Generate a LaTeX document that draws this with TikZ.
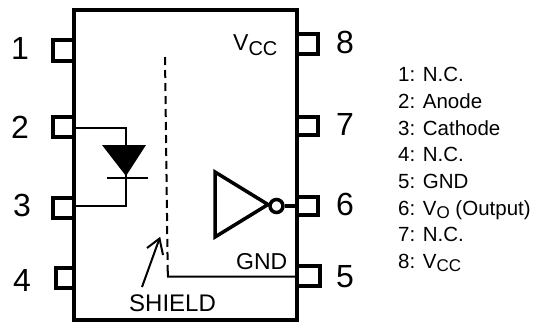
\documentclass[tikz,border=0pt]{standalone}
\usepackage{fontspec}
\setmainfont{Liberation Sans}
\newcommand{\fs}[1]{\fontsize{#1pt}{#1pt}\selectfont}
\tikzset{
  pinbox/.style={draw,line width=4pt,minimum width=21pt,minimum height=#1,inner sep=0pt,outer sep=0pt},
  pinbox/.default=20pt,
  bodybox/.style={draw,line width=4pt,minimum width=223pt,minimum height=310pt,inner sep=0pt,outer sep=0pt},
  wire/.style={line width=2pt},
  thick wire/.style={line width=3.5pt},
  pinnum/.style={font=\fs{32},inner sep=0pt},
  lab/.style={font=\fs{23},inner sep=0pt,anchor=base west},
  listitem/.style={font=\fs{20.5},inner sep=0pt,anchor=base west},
}
\begin{document}
\begin{tikzpicture}[x=1pt,y=-1pt]
\useasboundingbox (0,0) rectangle (534,322);
\fill[white] (0,0) rectangle (534,322);
% pins
\node[pinbox=21pt] (p1) at (63.5,50.5) {};
\node[pinbox=20pt] (p2) at (63.5,127) {};
\node[pinbox=20pt] (p3) at (63.5,207.5) {};
\node[pinbox=20.5pt,minimum width=18.5pt] (p4) at (64.75,278.2) {};
\node[pinbox=20pt] (p8) at (307,43.7) {};
\node[pinbox=18pt] (p7) at (307,126) {};
\node[pinbox=18pt] (p6) at (307,206) {};
\node[pinbox=20pt,minimum width=23pt] (p5) at (308,276) {};
\node[bodybox] (body) at (185.5,165) {};
% diode
\coordinate (a) at (126,128);
\coordinate (k) at (126,205.7);
\coordinate (tl) at (102,145);
\coordinate (tr) at (146,145);
\coordinate (tip) at (126,176);
\coordinate (bl) at (107,177.7);
\coordinate (br) at (148,177.7);
\draw[wire] (p2.east |- a) -- (a) -- (k) -- (p3.east |- k);
\fill (tl) -- (tr) -- (tip) -- cycle;
\draw[wire] (bl) -- (br);
% shield
\coordinate (s1) at (165,57);
\coordinate (s2) at (167.7,270);
\coordinate (s3) at (168,276.5);
\coordinate (s4) at (297,276.5);
\draw[wire,dash pattern=on 8pt off 5pt] (s1) -- (s2);
\draw[wire] (s2) -- (s3) -- (s4);
% inverter
\coordinate (i1) at (215,172);
\coordinate (i2) at (215,237);
\coordinate (i3) at (268,204.5);
\draw[thick wire,line join=miter] (i1) -- (i3) -- (i2) -- cycle;
\node[draw,circle,fill=white,line width=3.5pt,minimum size=13pt,inner sep=0pt] (bub) at (276.5,206) {};
\draw[thick wire] (bub.east) -- (bub.east -| body.east);
% arrow
\coordinate (ar1) at (142,287);
\coordinate (ar2) at (159.5,238.5);
\coordinate (ar3) at (147,248);
\coordinate (ar4) at (163,255);
\draw[wire] (ar1) -- (ar2);
\draw[wire,line join=miter] (ar3) -- (ar2) -- (ar4);
% pin numbers
\node[pinnum] (n1) at (20,48.5) {1};
\node[pinnum] (n2) at (20,127) {2};
\node[pinnum] (n3) at (22,205) {3};
\node[pinnum] (n4) at (22,280) {4};
\node[pinnum] (n8) at (345,42) {8};
\node[pinnum] (n7) at (345,124) {7};
\node[pinnum] (n6) at (345,204.5) {6};
\node[pinnum] (n5) at (345,277) {5};
% labels
\node[lab] (vcc) at (233,50) {V\raisebox{-5pt}{\fs{20}CC}};
\node[lab] (gnd) at (236,269) {GND};
\node[lab,font=\fs{24}] (shield) at (129,311.5) {SHIELD};
% list
\node[listitem] (l1) at (398,81.5) {1: N.C.};
\node[listitem] (l2) at (398,108) {2: Anode};
\node[listitem] (l3) at (398,135) {3: Cathode};
\node[listitem] (l4) at (398,161.5) {4: N.C.};
\node[listitem] (l5) at (398,188) {5: GND};
\node[listitem] (l6) at (398,215) {6: V\raisebox{-3.5pt}{\fs{17}O} (Output)};
\node[listitem] (l7) at (398,241.5) {7: N.C.};
\node[listitem] (l8) at (398,268) {8: V\raisebox{-3.5pt}{\fs{17}CC}};
\end{tikzpicture}
\end{document}
